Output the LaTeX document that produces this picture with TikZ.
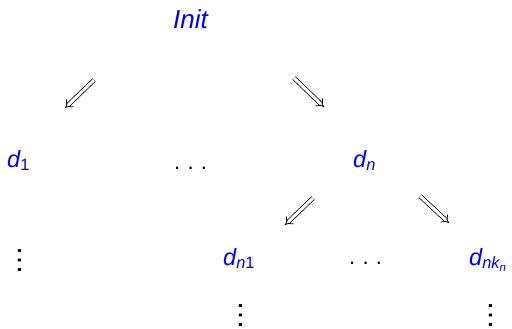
\documentclass[tikz,border=0pt]{standalone}
\usepackage{fontspec}
\setmainfont{Liberation Sans}
\usetikzlibrary{arrows.meta}
\newcommand{\myhdots}{.\kern7.2bp.\kern7.2bp.}
\begin{document}
\begin{tikzpicture}[x=1bp,y=-1bp,
  lbl/.style={inner sep=0pt, anchor=base west, text=blue, font=\fontsize{23.5bp}{27bp}\selectfont\itshape},
  dts/.style={inner sep=0pt, anchor=base west, font=\fontsize{22bp}{26bp}\selectfont},
  vd/.style={inner sep=0pt, anchor=center, rotate=90, font=\fontsize{30bp}{32bp}\selectfont},
  imp/.style={double, double distance=3bp, line width=0.75bp, -{Implies[]}, shorten >=0pt}]
\useasboundingbox (0,0) rectangle (512,328);
\node[lbl, font=\fontsize{26bp}{30bp}\selectfont\itshape] (init) at (173,28) {Init};
\node[lbl] (d1) at (7,167) {d\textsubscript{\upshape 1}};
\node[dts] (h1) at (174,169) {\myhdots};
\node[lbl] (dn) at (353,167) {d\textsubscript{n}};
\node[vd] (v1) at (20,260) {…};
\node[lbl] (dn1) at (223,265) {d\textsubscript{n\upshape 1}};
\node[dts] (h2) at (349,264) {\myhdots};
\node[lbl] (dnk) at (469,265) {d\textsubscript{nk\textsubscript{n}}};
\node[vd] (v2) at (241,315.5) {…};
\node[vd] (v3) at (491,315.5) {…};
\coordinate (a1s) at (94,80); \coordinate (a1e) at (65,108);
\coordinate (a2s) at (294,78); \coordinate (a2e) at (324,107);
\coordinate (a3s) at (313,198); \coordinate (a3e) at (285,225);
\coordinate (a4s) at (420,196); \coordinate (a4e) at (449,223);
\draw[imp] (a1s) -- (a1e);
\draw[imp] (a2s) -- (a2e);
\draw[imp] (a3s) -- (a3e);
\draw[imp] (a4s) -- (a4e);
\end{tikzpicture}
\end{document}
